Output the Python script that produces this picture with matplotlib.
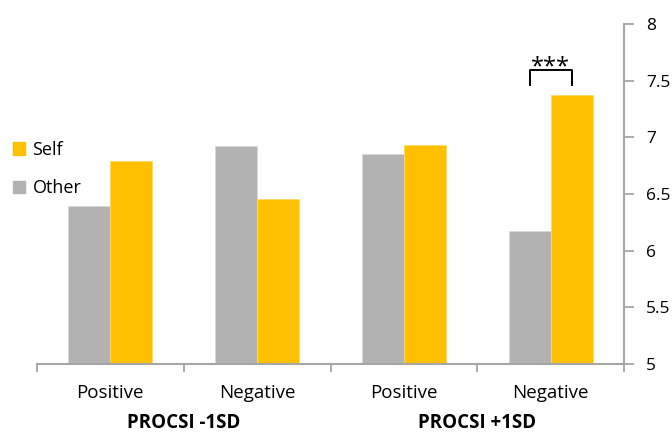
import matplotlib.pyplot as plt
import numpy as np
from matplotlib.patches import Patch

categories = ["Positive", "Negative", "Positive", "Negative"]
groups = ["PROCSI -1SD", "PROCSI +1SD"]
other_vals = [6.39, 6.92, 6.85, 6.17]
self_vals = [6.79, 6.46, 6.93, 7.37]
y_ticks = [5, 5.5, 6, 6.5, 7, 7.5, 8]
y_tick_labels = ["5", "5.5", "6", "6.5", "7", "7.5", "8"]

GRAY = "#B2B2B2"
GOLD = "#FFC000"
AXIS = "#A6A6A6"
FONT = "Open Sans"

plt.rcParams["font.family"] = [FONT, "DejaVu Sans"]

fig = plt.figure(figsize=(6.72, 4.33), dpi=100)
ax = fig.add_axes([37 / 672, 1 - 364 / 433, (624 - 37) / 672, (364 - 24) / 433])

x = np.arange(len(categories))
w = 0.286
ax.bar(x - w / 2, other_vals, w, color=GRAY, edgecolor="#D9D9D9", linewidth=0.6)
ax.bar(x + w / 2, self_vals, w, color=GOLD, edgecolor="#FFD966", linewidth=0.6)

ax.set_xlim(-0.5, 3.5)
ax.set_ylim(5, 8)

# right-hand value axis
ax.yaxis.tick_right()
ax.set_yticks(y_ticks)
ax.set_yticklabels(y_tick_labels, fontsize=12.5)
ax.tick_params(axis="y", direction="out", length=7, width=1.3, color=AXIS, pad=9)

# category separators on the x axis
ax.set_xticks([-0.5, 0.5, 1.5, 2.5, 3.5])
ax.set_xticklabels([])
ax.tick_params(axis="x", direction="out", length=6, width=1.3, color=AXIS)

for side in ["left", "top"]:
    ax.spines[side].set_visible(False)
for side in ["right", "bottom"]:
    ax.spines[side].set_color(AXIS)
    ax.spines[side].set_linewidth(1.5)

trans = ax.get_xaxis_transform()
for xi, lab in zip(x, categories):
    ax.text(xi, -0.085, lab, transform=trans, ha="center", va="center", fontsize=13.5)
for gi, lab in enumerate(groups):
    ax.text(0.5 + 2 * gi, -0.175, lab, transform=trans, ha="center", va="center",
            fontsize=13.5, fontweight="bold")

# significance bracket
x0, x1 = 3 - w / 2, 3 + w / 2
ax.plot([x0, x0, x1, x1], [7.46, 7.595, 7.595, 7.46], color="black", lw=1.4, clip_on=False)
ax.text(3, 7.62, "***", ha="center", va="center", fontsize=17)

handles = [Patch(color=GOLD, label="Self"), Patch(color=GRAY, label="Other")]
fig.legend(handles=handles, loc="center left", bbox_to_anchor=(0.0, 1 - 169 / 433),
           frameon=False, fontsize=13, handlelength=0.7, handleheight=0.7,
           handletextpad=0.4, labelspacing=1.15, borderpad=0.2)

fig.savefig("out.png", dpi=100)
